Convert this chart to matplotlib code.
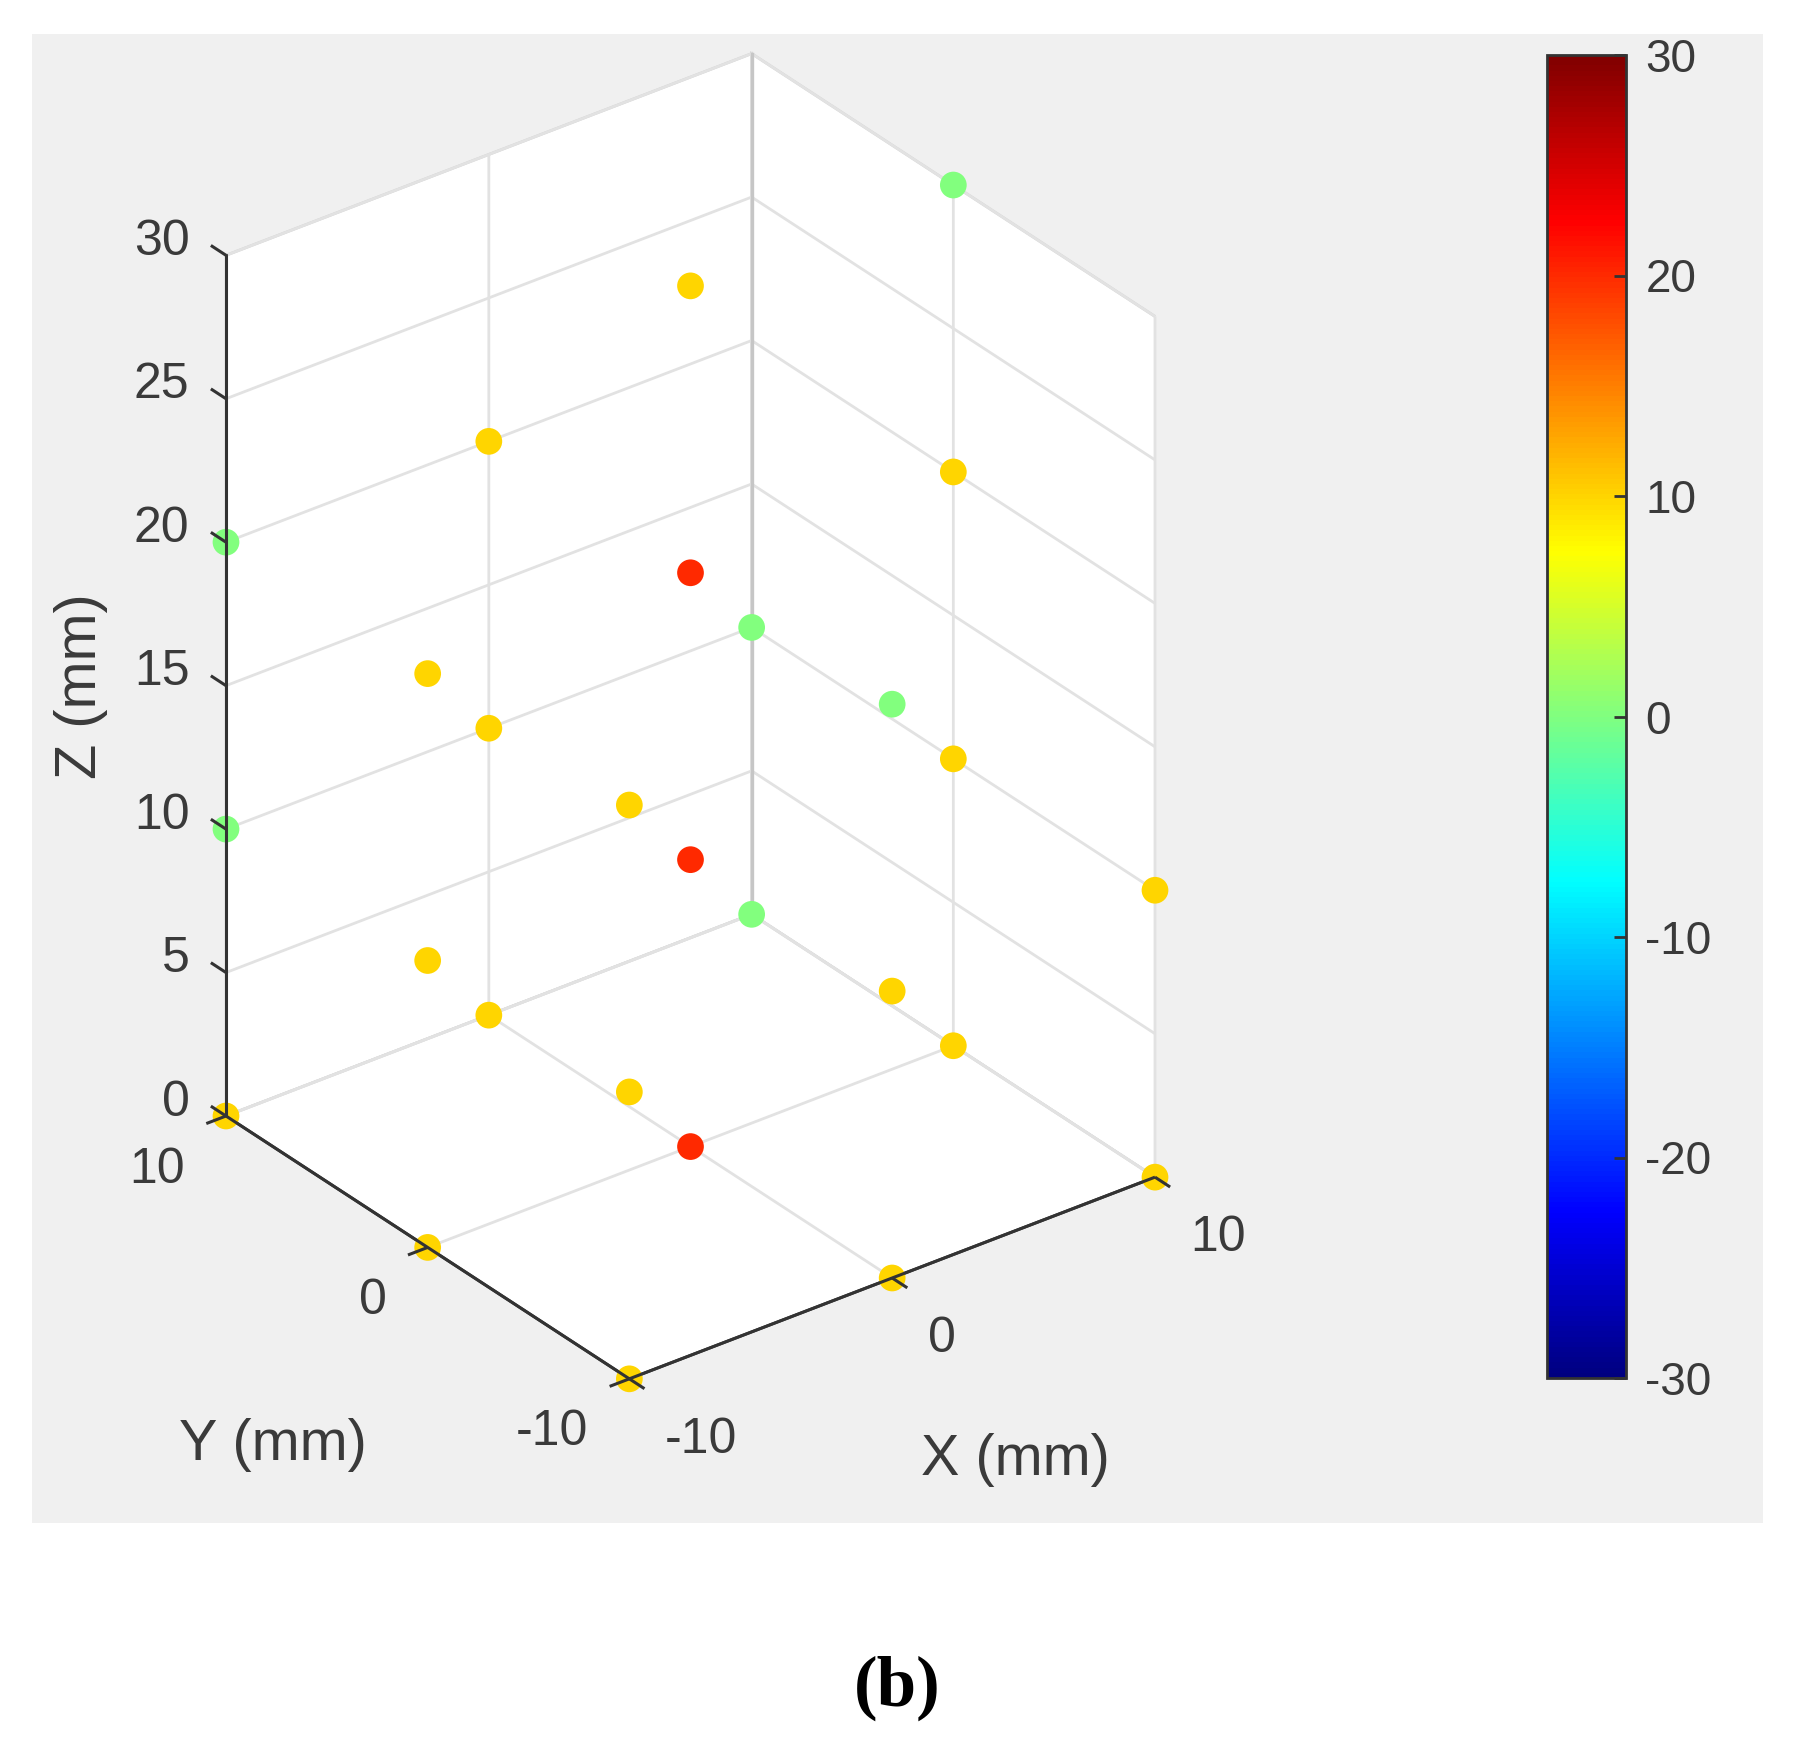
import numpy as np
import matplotlib
matplotlib.use("Agg")
import matplotlib.pyplot as plt
from matplotlib.colors import LinearSegmentedColormap
from matplotlib.patches import Rectangle
from matplotlib.transforms import Affine2D
from mpl_toolkits.mplot3d import proj3d

plt.rcParams['font.family'] = ['Liberation Sans', 'DejaVu Sans']
plt.rcParams['axes.unicode_minus'] = False

# data: position of each point (mm) and its colour value
x_vals = [-10,-10,-10,0,10,0,0,10,10, -10,0,10,-10,-10,0,0,10,10, -10,0,-10,-10,0,0,10, 0,10]
y_vals = [10,0,-10,-10,-10,0,10,0,10, -10,-10,-10,0,10,0,10,0,10, -10,-10,0,10,0,10,0, 0,0]
z_vals = [0]*9 + [10]*9 + [20]*7 + [30]*2
c_vals = [10,10,10,10,10,20,10,10,0,
          10,10,10,10,0,20,10,10,0,
          10,0,10,0,20,10,10,
          10,0]
xy_ticks = [-10, 0, 10]
z_ticks = [0, 5, 10, 15, 20, 25, 30]
cbar_ticks = [-30, -20, -10, 0, 10, 20, 30]

matlab_jet = LinearSegmentedColormap.from_list('matlab_jet', [
    (0.0, (0, 0, 0.5)), (0.125, (0, 0, 1)), (0.375, (0, 1, 1)),
    (0.625, (1, 1, 0)), (0.875, (1, 0, 0)), (1.0, (0.5, 0, 0))], N=256)

W, H = 1798, 1755
fig = plt.figure(figsize=(W/100, H/100), dpi=100, facecolor='white')
fig.add_artist(Rectangle((32/W, 1-1523/H), (1763-32)/W, (1523-34)/H, transform=fig.transFigure,
                         facecolor='#f0f0f0', edgecolor='none', zorder=-5))

ax = fig.add_axes([0, 0, 1, 1], projection='3d', computed_zorder=False)
ax.patch.set_alpha(0)
ax.set_proj_type('ortho')
ax.view_init(elev=30, azim=-127.5)
ax.set_box_aspect((1, 1, 1.5))
ax.set_xlim(-10, 10); ax.set_ylim(-10, 10); ax.set_zlim(0, 30)

sc = ax.scatter(x_vals, y_vals, z_vals, c=c_vals, cmap=matlab_jet, vmin=-30, vmax=30, s=370,
                depthshade=False, linewidths=0, clip_on=False, zorder=10)

ax.set_xticks(xy_ticks); ax.set_yticks(xy_ticks); ax.set_zticks(z_ticks)
TXT = '#3a3a3a'
DARK = '#333333'
for a in (ax.xaxis, ax.yaxis, ax.zaxis):
    a.set_pane_color((1, 1, 1, 1))
    a.pane.set_edgecolor('#d0d0d0')
    a.pane.set_linewidth(2)
    a.line.set_color(DARK)
    a.line.set_linewidth(2)
    a._axinfo['grid'].update(color='#e2e2e2', linewidth=2)
    a._axinfo['tick'].update(inward_factor=0.0, outward_factor=0.0)
    a.set_tick_params(labelsize=36, labelcolor=TXT, color=DARK, width=2)
    a.set_rotate_label(False)

# the back edge of the box is stronger than the grid
ax.plot([10, 10], [10, 10], [0, 30], color='#c6c6c6', lw=2.4, zorder=5, clip_on=False)

# axis lines and ticks run over the markers, as in the reference
LINE = dict(color=DARK, lw=2.2, zorder=20, solid_capstyle='butt', clip_on=False)
TICK = 0.75
ax.plot([-10, 10], [-10, -10], [0, 0], **LINE)
ax.plot([-10, -10], [-10, 10], [0, 0], **LINE)
ax.plot([-10, -10], [10, 10], [0, 30], **LINE)
for t in xy_ticks:
    ax.plot([t, t], [-10, -10 - TICK], [0, 0], **LINE)
    ax.plot([-10, -10 - TICK], [t, t], [0, 0], **LINE)
for t in z_ticks:
    ax.plot([-10, -10], [10, 10 + TICK], [t, t], **LINE)

ax.set_xlabel('X (mm)', fontsize=41.5, color=TXT, rotation=0, labelpad=50)
ax.set_ylabel('Y (mm)', fontsize=41.5, color=TXT, rotation=0, labelpad=50)
ax.set_zlabel('Z (mm)', fontsize=41.5, color=TXT, rotation=90, labelpad=30)

# place the 3D box so its corners land where they do in the reference
fig.canvas.draw()
M = ax.get_proj()
def frac(p):
    u, v, _ = proj3d.proj_transform(*p, M)
    d = ax.transData.transform((u, v))
    return ax.transAxes.inverted().transform(d)
a0 = frac((-10, 10, 0)); a1 = frac((10, -10, 0))
px0 = (226, 1116); px1 = (1155, 1177)
S = (px1[0]-px0[0])/(a1[0]-a0[0])
X0 = px0[0]-S*a0[0]
Y0 = (H-px0[1])-S*a0[1]
ax.set_position([X0/W, Y0/H, S/W, S/H])

# mplot3d resets text transforms while drawing, so shift through get_transform
def nudge(text, dx, dy):
    off = Affine2D().translate(dx, dy)
    text.get_transform = lambda: ax.transData + off

for axis, ha, dx, dy in ((ax.xaxis, 'left', 26, -35), (ax.yaxis, 'right', -29, -29), (ax.zaxis, 'right', -15, 12)):
    for tick in axis.get_major_ticks():
        tick.label1.set_ha(ha)
        tick.label1.set_va('center')
        nudge(tick.label1, dx, dy)
nudge(ax.xaxis.label, 66, -22)
nudge(ax.yaxis.label, -80, -46)
nudge(ax.zaxis.label, -50, -7)

cax = fig.add_axes([1547/W, 1-1378/H, (1626-1547)/W, (1378-55)/H])
cb = fig.colorbar(sc, cax=cax, ticks=cbar_ticks)
cb.ax.tick_params(direction='in', length=9, width=2, labelsize=33, labelcolor=TXT, color=DARK, pad=14)
cb.outline.set_edgecolor(DARK); cb.outline.set_linewidth(2)

fig.text(897/W, 1-1688/H, '(b)', family=['Liberation Serif'], weight='bold', fontsize=51, ha='center', va='center', color='black')
fig.savefig('out.png', dpi=100)
